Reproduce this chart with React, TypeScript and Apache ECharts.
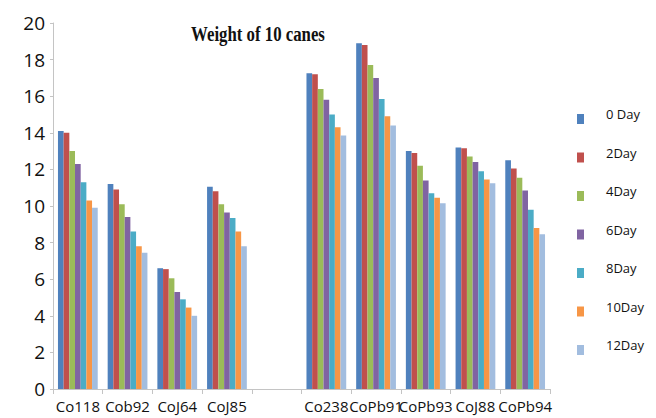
import React, { useEffect, useRef } from "react";
import * as echarts from "echarts";

// Varieties (an empty slot separates the two groups)
const categories = ["Co118", "Cob92", "CoJ64", "CoJ85", "", "Co238", "CoPb91", "CoPb93", "CoJ88", "CoPb94"];

const seriesNames = ["0 Day", "2Day", "4Day", "6Day", "8Day", "10Day", "12Day"];

// Weight of 10 canes (kg) per sampling day
const day0 = [14.1, 11.2, 6.6, 11.05, null, 17.25, 18.9, 13.0, 13.2, 12.5];
const day2 = [14.0, 10.9, 6.55, 10.8, null, 17.2, 18.8, 12.9, 13.15, 12.05];
const day4 = [13.0, 10.1, 6.05, 10.1, null, 16.4, 17.7, 12.2, 12.7, 11.55];
const day6 = [12.3, 9.4, 5.3, 9.65, null, 15.8, 17.0, 11.4, 12.4, 10.85];
const day8 = [11.3, 8.6, 4.9, 9.35, null, 15.0, 15.85, 10.7, 11.9, 9.8];
const day10 = [10.3, 7.8, 4.45, 8.6, null, 14.3, 14.9, 10.45, 11.45, 8.8];
const day12 = [9.9, 7.45, 4.0, 7.8, null, 13.85, 14.4, 10.15, 11.25, 8.45];

const seriesData = [day0, day2, day4, day6, day8, day10, day12];
const colors = ["#4F81BD", "#C0504D", "#9BBB59", "#8064A2", "#4BACC6", "#F79646", "#A2BDDF"];

// Legend swatch sits in the lower half of its box so the label rides above it
const legendIcon = "path://M0,0 M0,10 L7,10 L7,20 L0,20 Z";

export default function App() {
  const ref = useRef<HTMLDivElement>(null);

  useEffect(() => {
    document.body.style.margin = "0";
    if (!ref.current) return;
    const chart = echarts.init(ref.current, null, { renderer: "svg" });
    chart.setOption({
      animation: false,
      color: colors,
      graphic: [
        {
          type: "text",
          x: 258,
          y: 34,
          scaleX: 0.8,
          style: {
            text: "Weight of 10 canes",
            font: "bold 21px 'Liberation Serif', 'DejaVu Serif', serif",
            fill: "#111",
            textAlign: "center",
            textVerticalAlign: "middle",
          },
        },
      ],
      legend: {
        orient: "vertical",
        left: 572,
        top: 99,
        itemWidth: 7,
        itemHeight: 20,
        itemGap: 18.5,
        icon: legendIcon,
        data: seriesNames,
        textStyle: {
          fontFamily: "'Open Sans', sans-serif",
          fontSize: 13,
          color: "#111",
          padding: [0, 0, 0, 17],
        },
      },
      grid: { left: 53, right: 106, top: 23, bottom: 29, containLabel: false },
      xAxis: {
        type: "category",
        data: categories,
        axisLine: { lineStyle: { color: "#c4c4c4" } },
        axisTick: { show: true, length: 5, lineStyle: { color: "#c4c4c4" } },
        axisLabel: {
          fontFamily: "'Open Sans', sans-serif",
          fontSize: 15,
          color: "#111",
          margin: 9,
          interval: 0,
        },
      },
      yAxis: {
        type: "value",
        min: 0,
        max: 20,
        interval: 2,
        splitLine: { show: false },
        axisLine: { show: true, lineStyle: { color: "#c4c4c4" } },
        axisTick: { show: true, length: 3, lineStyle: { color: "#c4c4c4" } },
        axisLabel: {
          fontFamily: "'Open Sans', sans-serif",
          fontSize: 19,
          color: "#111",
          margin: 8,
        },
      },
      series: seriesNames.map((name, i) => ({
        name,
        type: "bar",
        data: seriesData[i],
        barGap: "0%",
        barCategoryGap: "20%",
      })),
    });
    return () => chart.dispose();
  }, []);

  return <div ref={ref} style={{ width: 656, height: 418 }} />;
}
